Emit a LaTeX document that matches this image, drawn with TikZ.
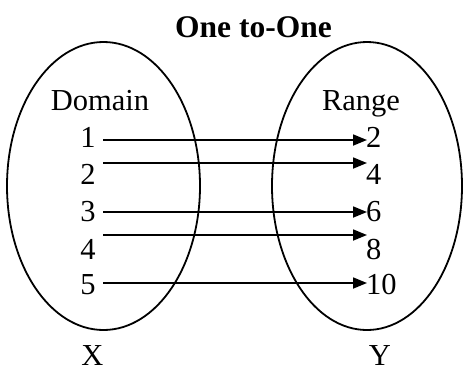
\documentclass[tikz,border=0pt]{standalone}
\usepackage{fontspec}
\setmainfont{Liberation Serif}
\usetikzlibrary{arrows.meta}
\begin{document}
\begin{tikzpicture}[x=1pt,y=-1pt,
  txt/.style={inner sep=0pt,font=\fontsize{30.5}{36}\selectfont},
  ell/.style={draw,line width=1.8pt},
  arr/.style={line width=1.8pt,-{Triangle[length=14pt,width=11pt]}}]
\useasboundingbox (0,0) rectangle (463,368);
\draw[ell] (103.5,186) ellipse [x radius=96.5, y radius=144];
\draw[ell] (367,186) ellipse [x radius=95, y radius=144];
\node[txt,anchor=base,font=\fontsize{31.5}{36}\selectfont\bfseries] (title) at (253.5,37) {One to-One};
\node[txt,anchor=base] (dom) at (100,110) {Domain};
\node[txt,anchor=base] (ran) at (361,110) {Range};
\node[txt,anchor=base] (l1) at (88,147) {1};
\node[txt,anchor=base] (l2) at (88,184) {2};
\node[txt,anchor=base] (l3) at (88,221) {3};
\node[txt,anchor=base] (l4) at (88,259) {4};
\node[txt,anchor=base] (l5) at (88,294) {5};
\node[txt,anchor=base west] (r1) at (366,147) {2};
\node[txt,anchor=base west] (r2) at (366,184) {4};
\node[txt,anchor=base west] (r3) at (366,221) {6};
\node[txt,anchor=base west] (r4) at (366,259) {8};
\node[txt,anchor=base west] (r5) at (366,294) {10};
\node[txt,anchor=base] (X) at (92.5,365) {X};
\node[txt,anchor=base] (Y) at (380,365) {Y};
\foreach \i/\y in {1/140,2/163,3/212,4/235,5/283}{
  \coordinate (s\i) at (103,\y);
  \coordinate (e\i) at (367,\y);
  \draw[arr] (s\i) -- (e\i);
}
\end{tikzpicture}
\end{document}
